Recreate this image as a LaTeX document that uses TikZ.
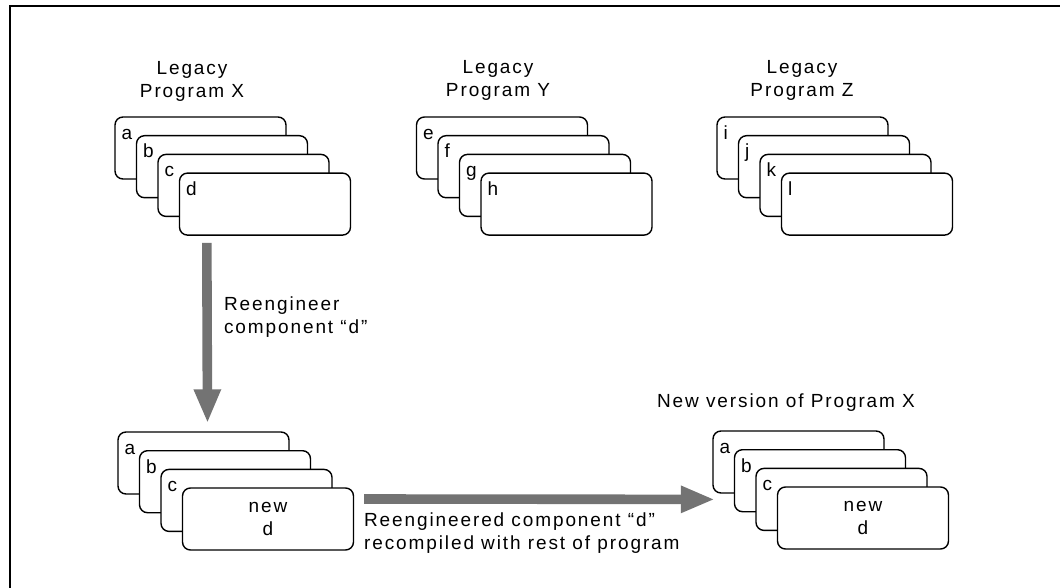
\documentclass[tikz,border=0pt]{standalone}
\usepackage{xcolor}
\usepackage{fontspec}
\setmainfont[LetterSpace=10]{Liberation Sans}
\usetikzlibrary{arrows.meta}

\tikzset{
  card/.style={draw, line width=0.7pt, fill=white, rounded corners=4pt,
    minimum width=85.5pt, minimum height=31pt, inner sep=0pt},
  cardlbl/.style={anchor=base west, inner sep=0pt, xshift=3.5pt, yshift=-11.5pt},
  title/.style={align=center},
  bigarrow/.style={draw=black!55, line width=4.8pt,
    -{Triangle[length=17pt, width=12.5pt]}},
}

\begin{document}
\begin{tikzpicture}[x=0.5pt, y=-0.5pt, font=\fontsize{9.5}{11.5}\selectfont]
\useasboundingbox (0,0) rectangle (1060,588);
\draw[line width=0.8pt] (10,588) -- (10,6) -- (1060,6);

\node[title] (xtitle) at (192,81.5) {Legacy\\Program X};
\node[title] (ytitle) at (498,80.5) {Legacy\\Program Y};
\node[title] (ztitle) at (802,80.5) {Legacy\\Program Z};
\node[title] (rtitle) at (786,403) {New version of Program X};

\foreach \t [count=\i from 0] in {a,b,c,d}
  \node[card, label={[cardlbl]north west:\t}] (x\t) at (200.5+21.5*\i, 148+18.7*\i) {};
\foreach \t [count=\i from 0] in {e,f,g,h}
  \node[card, label={[cardlbl]north west:\t}] (y\t) at (502+21.5*\i, 148+18.7*\i) {};
\foreach \t [count=\i from 0] in {i,j,k,l}
  \node[card, label={[cardlbl]north west:\t}] (z\t) at (802.5+21.5*\i, 148+18.7*\i) {};

\foreach \t [count=\i from 0] in {a,b,c}
  \node[card, label={[cardlbl]north west:\t}] (l\t) at (203.5+21.5*\i, 463+18.7*\i) {};
\node[card, align=center] (ld) at (268,519) {new\\d};

\foreach \t [count=\i from 0] in {a,b,c}
  \node[card, label={[cardlbl]north west:\t}] (r\t) at (798.5+21.5*\i, 462+18.7*\i) {};
\node[card, align=center] (rd) at (863,518) {new\\d};

\draw[bigarrow] ([xshift=14pt,yshift=-3.5pt]xd.south west) -- ([xshift=2pt,yshift=4pt]la.north);
\node[anchor=west, align=left] (vlbl) at (217,317.5) {Reengineer\\component “d”};

\draw[bigarrow] ([xshift=5pt,yshift=10pt]ld.east) -- ([xshift=-9.5pt,yshift=-9.35pt]rb.west);
\node[anchor=west, align=left] (hlbl) at (357,533.5) {Reengineered component “d”\\recompiled with rest of program};
\end{tikzpicture}
\end{document}
